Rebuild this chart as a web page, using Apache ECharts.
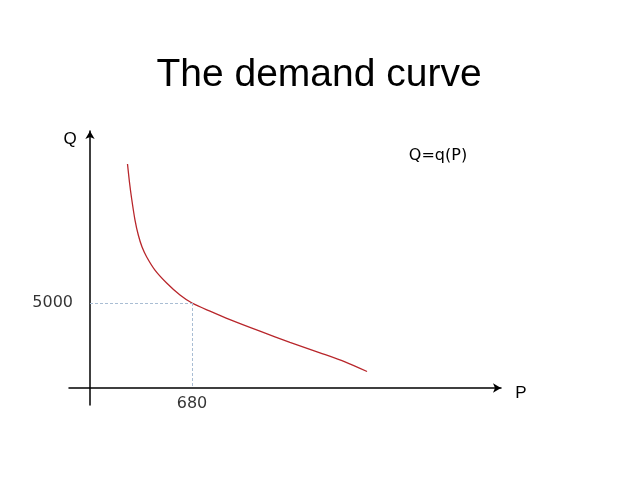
<!DOCTYPE html>
<html>
<head>
<meta charset="utf-8">
<script src="https://cdn.jsdelivr.net/npm/echarts@6/dist/echarts.min.js"></script>
<style>html,body{margin:0;padding:0;background:#fff;}#c{width:638px;height:479px;}</style>
</head>
<body>
<div id="c"></div>
<script>
// Demand curve sample points
var priceP = [250, 263, 278, 300, 322, 347, 378, 433, 511, 600, 680, 800, 933, 1133, 1333, 1533, 1700, 1847];
var quantityQ = [13180, 12120, 11120, 9880, 9000, 8290, 7710, 6940, 6180, 5470, 5000, 4520, 4020, 3340, 2690, 2070, 1540, 970];
// Marked point
var markP = 680;
var markQ = 5000;
var titleText = 'The demand curve';
var curveLabel = 'Q=q(P)';

var curve = priceP.map(function (p, i) { return [p, quantityQ[i]]; });

var chart = echarts.init(document.getElementById('c'), null, {renderer: 'canvas'});
chart.setOption({
  animation: false,
  backgroundColor: '#ffffff',
  title: {
    text: titleText,
    left: 'center',
    top: 51,
    textStyle: {fontFamily: 'Liberation Sans', fontSize: 39, fontWeight: 'normal', color: '#000'}
  },
  grid: {left: 69, right: 137, top: 131, bottom: 74},
  xAxis: {
    type: 'value', min: -140, max: 2740,
    axisLine: {onZero: true, lineStyle: {color: '#000', width: 1.5}, symbol: ['none', 'arrow'], symbolSize: [7, 8]},
    axisTick: {show: false}, axisLabel: {show: false}, splitLine: {show: false}
  },
  yAxis: {
    type: 'value', min: -1000, max: 15120,
    axisLine: {onZero: true, lineStyle: {color: '#000', width: 1.5}, symbol: ['none', 'arrow'], symbolSize: [7, 8]},
    axisTick: {show: false}, axisLabel: {show: false}, splitLine: {show: false}
  },
  graphic: [
    {type: 'text', x: 70, y: 139, style: {text: 'Q', font: '17px "Liberation Sans"', fill: '#000', textAlign: 'center', textVerticalAlign: 'middle'}},
    {type: 'text', x: 521, y: 393, style: {text: 'P', font: '17px "Liberation Sans"', fill: '#000', textAlign: 'center', textVerticalAlign: 'middle'}},
    {type: 'text', x: 438, y: 156, style: {text: curveLabel, font: '16px "DejaVu Sans"', fill: '#000', textAlign: 'center', textVerticalAlign: 'middle'}}
  ],
  series: [
    {
      type: 'line',
      data: curve,
      smooth: 0.25,
      symbol: 'none',
      lineStyle: {color: '#b8262b', width: 1.3},
      markLine: {
        silent: true,
        symbol: 'none',
        label: {show: false},
        lineStyle: {color: '#a9bdd3', type: [3, 2], width: 1},
        data: [
          [{coord: [0, markQ]}, {coord: [markP, markQ]}],
          [{coord: [markP, markQ]}, {coord: [markP, 0]}]
        ]
      }
    },
    {
      type: 'scatter',
      symbolSize: 0,
      data: [[0, markQ]],
      label: {show: true, position: 'left', distance: 17, formatter: String(markQ), fontFamily: 'DejaVu Sans', fontSize: 16, color: '#000'}
    },
    {
      type: 'scatter',
      symbolSize: 0,
      data: [[markP, 0]],
      label: {show: true, position: 'bottom', distance: 8, formatter: String(markP), fontFamily: 'DejaVu Sans', fontSize: 16, color: '#000'}
    }
  ]
});
</script>
</body>
</html>
